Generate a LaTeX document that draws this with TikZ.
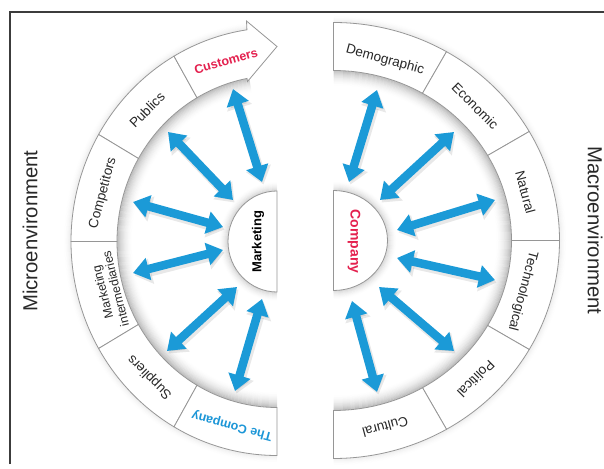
\documentclass[tikz,border=0pt]{standalone}
\usepackage{fontspec}
\setmainfont{Liberation Sans}
\usetikzlibrary{arrows.meta}
\definecolor{arrowblue}{RGB}{27,154,215}
\definecolor{custred}{RGB}{228,32,78}
\definecolor{tcblue}{RGB}{28,150,215}
\definecolor{bandline}{RGB}{150,150,150}
\definecolor{txt}{RGB}{40,40,40}
\definecolor{framecol}{RGB}{60,60,60}
\newcommand\myhalo[7]{%
  \foreach \k in {1,...,#6}{%
    \pgfmathsetmacro\op{#7*(1-(\k-1)/#6)*(1-(\k-1)/#6)}%
    \pgfmathsetmacro\hx{#3+(#5)*(\k-0.5)}%
    \pgfmathsetmacro\hy{#4+(#5)*(\k-0.5)}%
    \pgfmathsetmacro\sx{\hx*cos(#1)}%
    \pgfmathsetmacro\sy{\hy*sin(#1)}%
    \draw[black, draw opacity=\op, line width=1pt] (\sx,\sy) arc[start angle=#1, end angle=#2, x radius=\hx, y radius=\hy];
  }}
\tikzset{
  seg/.style={fill=white, draw=bandline, line width=0.8pt},
  dbl/.style={arrowblue, line width=8.5pt, {Triangle[length=16pt,width=22pt]}-{Triangle[length=16pt,width=22pt]}},
  dblshadow/.style={black, opacity=0.09, line width=10pt, {Triangle[length=17pt,width=25pt]}-{Triangle[length=17pt,width=25pt]}},
  lbl/.style={text=txt, font=\fontsize{13.5}{15}\selectfont, inner sep=0pt},
  big/.style={text=txt, font=\fontsize{20.3}{24}\selectfont, inner sep=0pt}
}
\begin{document}
\begin{tikzpicture}[x=1pt,y=1pt]
\useasboundingbox (0,0) rectangle (604,468);
\draw[framecol, line width=1.3pt] (10,4) -- (10,456) -- (604,456);

% ---------- left half (microenvironment)
\begin{scope}[shift={(277,226.5)}]
  \myhalo{98}{270}{206}{214}{1}{8}{0.06}
  \myhalo{100}{270}{160}{166}{-1}{16}{0.24}
  \myhalo{90}{270}{49}{50.5}{1}{10}{0.14}
  \foreach \a/\b in {120/150,150/180,180/210,210/240,240/270}{
    \draw[seg] (\a:206 and 214) arc[start angle=\a,end angle=\b,x radius=206,y radius=214]
      -- (\b:160 and 166) arc[start angle=\b,end angle=\a,x radius=160,y radius=166] -- cycle;
  }
  \draw[seg] (120:206 and 214) arc[start angle=120,end angle=98.4,x radius=206,y radius=214]
     -- (-30.5,220.5) -- (0,195) -- (-29.5,160) -- (100.8:160 and 166)
     arc[start angle=100.8,end angle=120,x radius=160,y radius=166] -- cycle;
  \draw[seg] (0,50.5) arc[start angle=90,end angle=270,x radius=49,y radius=50.5] -- cycle;
  \coordinate (lo1) at (-44,152.5);  \coordinate (li1) at (-15,59.5);
  \coordinate (lo2) at (-109,109.5); \coordinate (li2) at (-44,41.5);
  \coordinate (lo3) at (-144,39.5);  \coordinate (li3) at (-54,14.5);
  \coordinate (lo4) at (-144,-31.5); \coordinate (li4) at (-54,-8.5);
  \coordinate (lo5) at (-110,-109.5);\coordinate (li5) at (-40,-45.5);
  \coordinate (lo6) at (-42,-149.5); \coordinate (li6) at (-15,-57.5);
  \node[lbl, text=custred, font=\bfseries\fontsize{12.5}{14}\selectfont, rotate=16] (nCust) at (-51,180.5) {Customers};
  \node[lbl, rotate=45] (nPub) at (-130,131.5) {Publics};
  \node[lbl, rotate=75] (nComp) at (-174,48.5) {Competitors};
  \node[lbl, rotate=104, align=center, font=\fontsize{12.3}{13.5}\selectfont] (nMI) at (-168,-49) {Marketing\\intermediaries};
  \node[lbl, rotate=135] (nSup) at (-127,-135.5) {Suppliers};
  \node[lbl, text=tcblue, font=\bfseries\fontsize{12.5}{14}\selectfont, rotate=165] (nTC) at (-45,-184) {The Company};
  \node[lbl, text=black, font=\bfseries\fontsize{13}{14}\selectfont, rotate=90] (nMkt) at (-19,0) {Marketing};
\end{scope}

% ---------- right half (macroenvironment)
\begin{scope}[shift={(333.5,227.5)}]
  \myhalo{-90}{90}{226}{218}{1}{8}{0.06}
  \myhalo{-90}{90}{178}{170}{-1}{16}{0.24}
  \myhalo{-90}{90}{54}{50}{1}{10}{0.14}
  \foreach \a/\b in {60/90,30/60,0/30,-30/0,-60/-30,-90/-60}{
    \draw[seg] (\a:226 and 218) arc[start angle=\a,end angle=\b,x radius=226,y radius=218]
      -- (\b:178 and 170) arc[start angle=\b,end angle=\a,x radius=178,y radius=170] -- cycle;
  }
  \draw[seg] (0,50) arc[start angle=90,end angle=-90,x radius=54,y radius=50] -- cycle;
  \coordinate (ro1) at (43.5,150.5);   \coordinate (ri1) at (15.5,58.5);
  \coordinate (ro2) at (120.5,108.5);  \coordinate (ri2) at (46.5,40.5);
  \coordinate (ro3) at (161.5,40.5);   \coordinate (ri3) at (63.5,10.5);
  \coordinate (ro4) at (161.5,-39.5);  \coordinate (ri4) at (63.5,-17.5);
  \coordinate (ro5) at (120.5,-110.5); \coordinate (ri5) at (45.5,-46.5);
  \coordinate (ro6) at (43.5,-151.5);  \coordinate (ri6) at (18.5,-60.5);
  \node[lbl, rotate=-15] (nDem) at (51.5,180.5) {Demographic};
  \node[lbl, rotate=-45] (nEco) at (141.8,134.5) {Economic};
  \node[lbl, rotate=-75] (nNat) at (191.8,48.2) {Natural};
  \node[lbl, rotate=-105] (nTech) at (189.2,-50.8) {Technological};
  \node[lbl, rotate=-135] (nPol) at (142.5,-138.5) {Political};
  \node[lbl, rotate=-165] (nCul) at (51.8,-186.2) {Cultural};
  \node[lbl, text=custred, font=\bfseries\fontsize{14}{15}\selectfont, rotate=-90] (nCo) at (20.5,-1) {Company};
\end{scope}

% ---------- arrows
\foreach \n in {1,...,6}{
  \draw[dblshadow] ([shift={(1.5,-2.5)}]lo\n) -- ([shift={(1.5,-2.5)}]li\n);
  \draw[dblshadow] ([shift={(1.5,-2.5)}]ro\n) -- ([shift={(1.5,-2.5)}]ri\n);
}
\foreach \n in {1,...,6}{
  \draw[dbl] (lo\n) -- (li\n);
  \draw[dbl] (ro\n) -- (ri\n);
}

\node[big, rotate=90] (nMicro) at (30,237) {Microenvironment};
\node[big, rotate=-90] (nMacro) at (595,237.5) {Macroenvironment};
\end{tikzpicture}
\end{document}
